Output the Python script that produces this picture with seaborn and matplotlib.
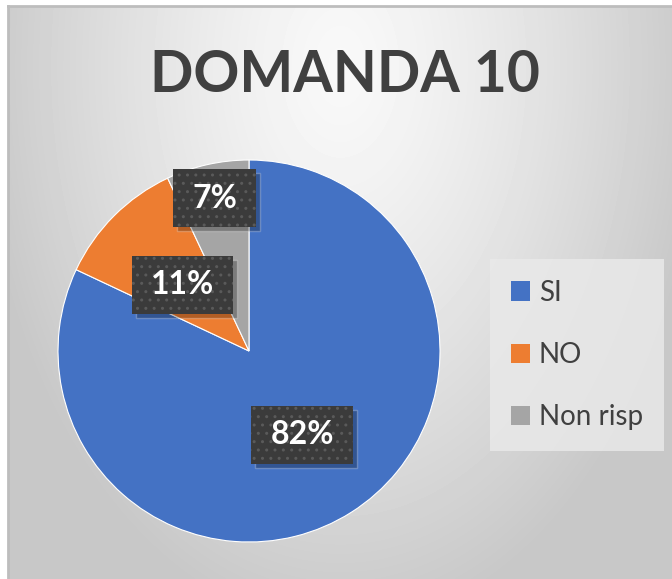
import numpy as np
import matplotlib
matplotlib.use('Agg')
import matplotlib.pyplot as plt
import matplotlib.patches as mpatches
import seaborn as sns

# ─── Données ───
categorie = ['SI', 'NO', 'Non risp']
percentuali = [82, 11, 7]
colori = ['#4472C4', '#ED7D31', '#A5A5A5']
titolo = 'DOMANDA 10'

sns.set_theme(style='white')
plt.rcParams['font.family'] = ['Lato', 'DejaVu Sans']

W, H = 672, 579
fig = plt.figure(figsize=(W / 100, H / 100), dpi=100)
fig.patch.set_facecolor('white')

# ─── Fond dégradé (style Excel) ───
bg = fig.add_axes([8 / W, 0, 1 - 8 / W, (H - 6) / H])
yy, xx = np.mgrid[0:573, 0:664]
d = np.sqrt(((xx - 332) / 360) ** 2 + ((yy - 60) / 560) ** 2)
val = 0.975 - 0.19 * np.clip(d, 0, 1) ** 1.3
bg.imshow(val, cmap='gray', vmin=0, vmax=1, aspect='auto')
bg.set_xticks([])
bg.set_yticks([])
for s in ['right', 'bottom']:
    bg.spines[s].set_visible(False)
for s in ['top', 'left']:
    bg.spines[s].set_color('#BDBDBD')
    bg.spines[s].set_linewidth(2)

# ─── Camembert ───
cx, cy, r = 249, 351, 191
ax = fig.add_axes([(cx - r) / W, (H - cy - r) / H, 2 * r / W, 2 * r / H])
wedges, _ = ax.pie(percentuali, colors=colori, startangle=90, counterclock=False,
                   wedgeprops=dict(edgecolor='white', linewidth=0.8))
ax.set_xlim(-1, 1)
ax.set_ylim(-1, 1)
ax.set_aspect('auto')
ax.axis('off')

# étiquettes (rayon de placement propre à chaque part)
raggi = [0.52, 0.49, 0.82]
testi = []
for w, p, rr in zip(wedges, percentuali, raggi):
    ang = np.deg2rad((w.theta1 + w.theta2) / 2)
    t = ax.text(rr * np.cos(ang), rr * np.sin(ang), f'{p}%', ha='center', va='center',
                color='white', fontsize=23, fontweight='bold', zorder=5)
    testi.append(t)

# boîtes sombres autour des étiquettes (marge horizontale 19 px, hauteur 58 px)
fig.canvas.draw()
inv = ax.transData.inverted()
for t in testi:
    bb = t.get_window_extent()
    xc, yc = (bb.x0 + bb.x1) / 2, (bb.y0 + bb.y1) / 2
    bw, bh = bb.width + 38, 58
    for off, kw in [((4, -4), dict(facecolor='black', alpha=0.25, zorder=3)),
                    ((0, 0), dict(facecolor='#3B3B3B', edgecolor='#5A5A5A',
                                  hatch='..', linewidth=0, zorder=4))]:
        (x0, y0), (x1, y1) = inv.transform([(xc - bw / 2 + off[0], yc - bh / 2 + off[1]),
                                             (xc + bw / 2 + off[0], yc + bh / 2 + off[1])])
        ax.add_patch(mpatches.Rectangle((x0, y0), x1 - x0, y1 - y0, **kw))

# ─── Titre ───
fig.text(345 / W, 1 - 76 / H, titolo, ha='center', va='center',
         fontsize=41, fontweight='bold', color='#404040')

# ─── Légende ───
handles = [mpatches.Patch(facecolor=c, edgecolor='none') for c in colori]
leg = fig.legend(handles, categorie, loc='upper left',
                 bbox_to_anchor=(490 / W, 1 - 259 / H), fontsize=20,
                 frameon=True, fancybox=False, labelspacing=1.3,
                 handlelength=0.7, handleheight=0.7, handletextpad=0.3,
                 borderpad=0.75, borderaxespad=0)
leg.get_frame().set_facecolor('#E9E9E9')
leg.get_frame().set_edgecolor('none')
leg.get_frame().set_alpha(0.85)
for t in leg.get_texts():
    t.set_color('#404040')

fig.savefig('out.png', dpi=100)
